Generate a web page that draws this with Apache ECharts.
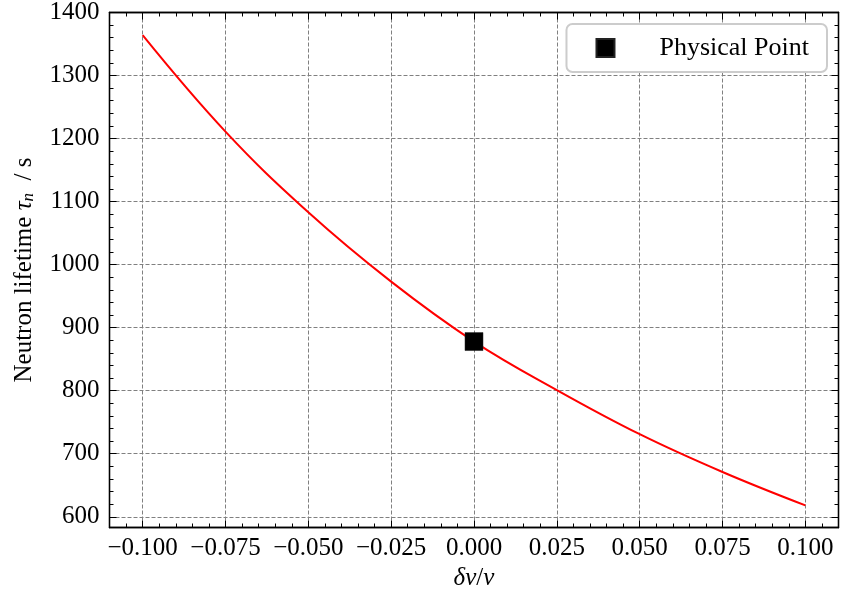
<!DOCTYPE html>
<html>
<head>
<meta charset="utf-8">
<script src="https://cdn.jsdelivr.net/npm/echarts@6/dist/echarts.min.js"></script>
<style>
html,body{margin:0;padding:0;background:#fff;}
#chart{width:841px;height:600px;}
</style>
</head>
<body>
<div id="chart"></div>
<script>
// ---- data ----
const xValues = [-0.1, -0.075, -0.05, -0.025, 0, 0.025, 0.05, 0.075, 0.1];
const tauValues = [1364, 1211, 1083, 973, 878, 801, 731, 671, 618];
const physicalPoint = [0, 878];
const xMajorTicks = [-0.1, -0.075, -0.05, -0.025, 0, 0.025, 0.05, 0.075, 0.1];
const yMajorTicks = [600, 700, 800, 900, 1000, 1100, 1200, 1300, 1400];
const xMinorTicks = [];
for (let i = -22; i <= 22; i++) xMinorTicks.push(i * 0.005);
const yMinorTicks = [];
for (let v = 600; v <= 1400; v += 20) yMinorTicks.push(v);
const xRange = [-0.11, 0.11];
const yRange = [583, 1400];

const FONT = 'Liberation Serif';
const lineData = xValues.map((x, i) => [x, tauValues[i]]);

function fmtX(v) {
  const r = Math.round(v * 1000) / 1000;
  if (Math.abs(r) < 1e-9) return '0.000';
  return (r < 0 ? '\u2212' : '') + Math.abs(r).toFixed(3);
}
function fmtY(v) { return String(Math.round(v)); }

const axisLineStyle = { show: true, onZero: false, lineStyle: { color: '#000', width: 1.3 } };

function xAxisDef(pos, major, showLabel) {
  return {
    type: 'value', position: pos, min: xRange[0], max: xRange[1],
    axisLine: axisLineStyle,
    axisTick: { show: true, inside: true, length: major ? 7 : 4, customValues: major ? xMajorTicks : xMinorTicks,
                lineStyle: { color: '#000', width: 1 } },
    axisLabel: showLabel ? { show: true, customValues: xMajorTicks, formatter: fmtX, fontFamily: FONT, fontSize: 25, color: '#000', margin: 8 } : { show: false },
    splitLine: (showLabel) ? { show: true, lineStyle: { color: '#808080', width: 1, type: [4, 2] } } : { show: false },
    name: showLabel ? '{it|δv}{r|/}{it|v}' : '',
    nameLocation: 'middle', nameGap: 38,
    nameTextStyle: { rich: { it: { fontFamily: FONT, fontStyle: 'italic', fontSize: 25, color: '#000' }, r: { fontFamily: FONT, fontSize: 25, color: '#000' } } }
  };
}
function yAxisDef(pos, major, showLabel) {
  return {
    type: 'value', position: pos, min: yRange[0], max: yRange[1],
    axisLine: axisLineStyle,
    axisTick: { show: true, inside: true, length: major ? 7 : 4, customValues: major ? yMajorTicks : yMinorTicks,
                lineStyle: { color: '#000', width: 1 } },
    axisLabel: showLabel ? { show: true, customValues: yMajorTicks, formatter: fmtY, fontFamily: FONT, fontSize: 25, color: '#000', margin: 10 } : { show: false },
    splitLine: (showLabel) ? { show: true, lineStyle: { color: '#808080', width: 1, type: [4, 2] } } : { show: false },
    name: showLabel ? '{r|Neutron lifetime }{it|τ}{sub|n}{r|  / s}' : '',
    nameLocation: 'middle', nameGap: 72, nameRotate: 90,
    nameTextStyle: { rich: {
      r: { fontFamily: FONT, fontSize: 25, color: '#000' },
      it: { fontFamily: FONT, fontStyle: 'italic', fontSize: 25, color: '#000' },
      sub: { fontFamily: FONT, fontStyle: 'italic', fontSize: 17, color: '#000', padding: [10, 0, 0, 0] }
    } }
  };
}

const chart = echarts.init(document.getElementById('chart'), null, { renderer: 'canvas' });
chart.setOption({
  animation: false,
  backgroundColor: '#fff',
  grid: { left: 109.5, right: 2.5, top: 11.5, bottom: 72.5, containLabel: false },
  xAxis: [xAxisDef('bottom', true, true), xAxisDef('bottom', false, false), xAxisDef('top', true, false), xAxisDef('top', false, false)],
  yAxis: [yAxisDef('left', true, true), yAxisDef('left', false, false), yAxisDef('right', true, false), yAxisDef('right', false, false)],
  legend: {
    show: true, right: 14, top: 24,
    data: [{ name: 'Physical Point', icon: 'rect', itemStyle: { color: '#000', opacity: 1 } }],
    itemWidth: 18, itemHeight: 18,
    backgroundColor: '#fff', borderColor: '#cccccc', borderWidth: 2, borderRadius: 6,
    padding: [11, 18, 11, 29],
    textStyle: { fontFamily: FONT, fontSize: 26, color: '#000', padding: [0, 0, 0, 40] }
  },
  series: [
    {
      name: 'curve', type: 'line', data: lineData, xAxisIndex: 0, yAxisIndex: 0,
      smooth: 0.4, showSymbol: false, symbol: 'none',
      lineStyle: { color: '#ff0000', width: 2 }, z: 3
    },
    {
      name: 'Physical Point', type: 'scatter', data: [physicalPoint], xAxisIndex: 0, yAxisIndex: 0,
      symbol: 'rect', symbolSize: 18,
      itemStyle: { color: '#000', opacity: 1, borderColor: '#222', borderWidth: 0.5 }, z: 4
    }
  ]
});
</script>
</body>
</html>
